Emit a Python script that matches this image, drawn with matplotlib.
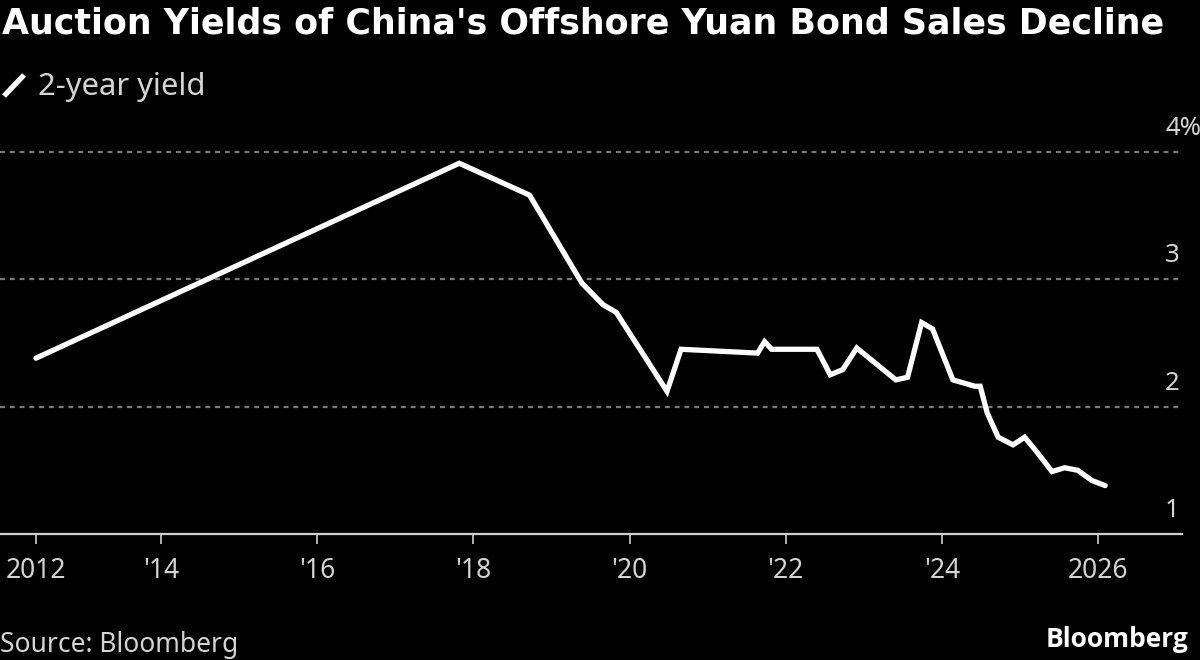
import matplotlib
matplotlib.use("Agg")
import matplotlib.pyplot as plt
import matplotlib.transforms as mtransforms

# ---- data ----
years = [2012.40, 2017.82, 2018.72, 2019.39, 2019.66, 2019.83, 2020.48, 2020.66,
         2021.64, 2021.73, 2021.82, 2022.40, 2022.57, 2022.73, 2022.91, 2023.41,
         2023.56, 2023.74, 2023.88, 2024.14, 2024.42, 2024.49, 2024.58, 2024.72,
         2024.91, 2025.06, 2025.22, 2025.41, 2025.57, 2025.74, 2025.92, 2026.09]
yield_2y = [2.38, 3.91, 3.66, 2.97, 2.80, 2.74, 2.12, 2.45,
            2.42, 2.51, 2.45, 2.45, 2.25, 2.29, 2.46, 2.21,
            2.23, 2.66, 2.61, 2.21, 2.16, 2.16, 1.95, 1.76,
            1.70, 1.76, 1.64, 1.49, 1.52, 1.50, 1.42, 1.38]
x_ticks = [2012.40, 2014, 2016, 2018, 2020, 2022, 2024, 2026]
x_tick_labels = ["2012", "'14", "'16", "'18", "'20", "'22", "'24", "2026"]
y_ticks = [1, 2, 3, 4]
y_tick_labels = ["1", "2", "3", "4%"]

title = "Auction Yields of China's Offshore Yuan Bond Sales Decline"
legend_label = "2-year yield"
source = "Source: Bloomberg"

W, H = 1200, 660
fig = plt.figure(figsize=(W / 100, H / 100), dpi=100, facecolor="black")

ax_left, ax_right, ax_bottom, ax_top = 0, 1181.7, 534, 113.6
ax = fig.add_axes([ax_left / W, 1 - ax_bottom / H, (ax_right - ax_left) / W,
                   (ax_bottom - ax_top) / H])
ax.set_facecolor("black")
ax.set_xlim(2011.94, 2027.07)
ax.set_ylim(1, 4.3)

FONT = ["Noto Sans", "DejaVu Sans"]
GREY = "#d4d4d4"

# gridlines
for v in y_ticks[1:]:
    ax.axhline(v, color="#7a7a7a", lw=1.6, ls=(0, (2.2, 2.2)), zorder=1)

ax.plot(years, yield_2y, color="white", lw=3.8, solid_joinstyle="miter",
        solid_capstyle="round", zorder=3)

for s in ["top", "right", "left"]:
    ax.spines[s].set_visible(False)
ax.spines["bottom"].set_color("#cfcfcf")
ax.spines["bottom"].set_linewidth(1.6)
ax.set_yticks([])
ax.set_xticks(x_ticks)
ax.set_xticklabels(x_tick_labels, fontfamily=FONT, fontsize=19, color=GREY)
ax.tick_params(axis="x", length=7.5, width=1.2, color="#cfcfcf", pad=9)

# y labels above gridlines at right
trans = mtransforms.blended_transform_factory(fig.transFigure, ax.transData)
for v, lab in zip(y_ticks, y_tick_labels):
    ax.annotate(lab, xy=(1165 / W, v), xycoords=trans, xytext=(0, 17),
                textcoords="offset pixels", ha="left", va="baseline",
                fontfamily=FONT, fontsize=18.5, color=GREY, annotation_clip=False)

# title
fig.text(2 / W, 1 - 33 / H, title, ha="left", va="baseline", color="white",
         fontsize=25.1, fontweight="bold", fontfamily=["DejaVu Sans"])

# legend
fig.add_artist(plt.Line2D([4 / W, 24 / W], [1 - 96 / H, 1 - 75 / H],
                          color="white", lw=3.8, solid_capstyle="butt"))
fig.text(38 / W, 1 - 95 / H, legend_label, ha="left", va="baseline",
         color=GREY, fontsize=22.3, fontfamily=FONT)

# source / logo
fig.text(0 / W, 1 - 652 / H, source, ha="left", va="baseline", color=GREY,
         fontsize=19, fontfamily=FONT)
fig.text(1188 / W, 1 - 647 / H, "Bloomberg", ha="right", va="baseline",
         color="white", fontsize=19, fontweight="bold",
         fontfamily=["Open Sans", "DejaVu Sans"])

fig.savefig("out.png", dpi=100, facecolor="black")
